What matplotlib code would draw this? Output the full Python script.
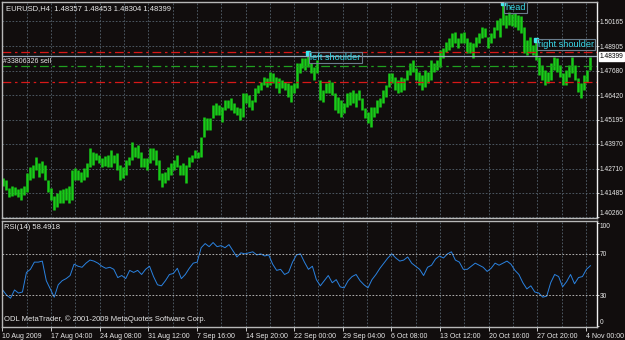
import numpy as np
import matplotlib
matplotlib.use('Agg')
import matplotlib.pyplot as plt
import matplotlib.transforms as mtrans

# EURUSD H4 bars (high / low)
highs = [1.4224, 1.4214, 1.4174, 1.4184, 1.4179, 1.4169, 1.4174, 1.4184, 1.4250, 1.4280,
         1.4290, 1.4331, 1.4300, 1.4310, 1.4290, 1.4214, 1.4174, 1.4133, 1.4148, 1.4164,
         1.4169, 1.4174, 1.4184, 1.4265, 1.4275, 1.4265, 1.4255, 1.4275, 1.4300, 1.4376,
         1.4356, 1.4351, 1.4341, 1.4326, 1.4336, 1.4341, 1.4366, 1.4341, 1.4351, 1.4290,
         1.4280, 1.4315, 1.4331, 1.4406, 1.4381, 1.4391, 1.4356, 1.4326, 1.4326, 1.4376,
         1.4376, 1.4366, 1.4315, 1.4250, 1.4255, 1.4280, 1.4300, 1.4315, 1.4341, 1.4290,
         1.4300, 1.4290, 1.4331, 1.4341, 1.4366, 1.4356, 1.4432, 1.4533, 1.4528, 1.4528,
         1.4594, 1.4604, 1.4594, 1.4584, 1.4619, 1.4619, 1.4629, 1.4604, 1.4584, 1.4578,
         1.4654, 1.4654, 1.4644, 1.4619, 1.4680, 1.4695, 1.4710, 1.4735, 1.4730, 1.4761,
         1.4756, 1.4735, 1.4730, 1.4720, 1.4710, 1.4705, 1.4695, 1.4705, 1.4806, 1.4806,
         1.4832, 1.4832, 1.4857, 1.4806, 1.4786, 1.4821, 1.4720, 1.4670, 1.4705, 1.4720,
         1.4710, 1.4654, 1.4634, 1.4619, 1.4604, 1.4654, 1.4659, 1.4670, 1.4654, 1.4670,
         1.4629, 1.4578, 1.4558, 1.4584, 1.4584, 1.4619, 1.4629, 1.4670, 1.4695, 1.4756,
         1.4756, 1.4735, 1.4720, 1.4735, 1.4730, 1.4771, 1.4806, 1.4821, 1.4781, 1.4761,
         1.4746, 1.4771, 1.4761, 1.4821, 1.4806, 1.4821, 1.4872, 1.4882, 1.4912, 1.4933,
         1.4958, 1.4963, 1.4933, 1.4958, 1.4963, 1.4933, 1.4912, 1.4907, 1.4938, 1.4958,
         1.4988, 1.4983, 1.4938, 1.4958, 1.4988, 1.5024, 1.5034, 1.5100, 1.5049, 1.5064,
         1.5054, 1.5059, 1.5049, 1.5044, 1.4988, 1.4923, 1.4938, 1.4897, 1.4923, 1.4837,
         1.4796, 1.4771, 1.4761, 1.4806, 1.4837, 1.4832, 1.4796, 1.4756, 1.4771, 1.4796,
         1.4837, 1.4796, 1.4730, 1.4705, 1.4746, 1.4771, 1.4837]
lows = [1.4184, 1.4164, 1.4128, 1.4133, 1.4138, 1.4128, 1.4113, 1.4138, 1.4153, 1.4214,
        1.4224, 1.4265, 1.4229, 1.4250, 1.4214, 1.4153, 1.4113, 1.4062, 1.4078, 1.4098,
        1.4098, 1.4113, 1.4098, 1.4113, 1.4214, 1.4214, 1.4204, 1.4214, 1.4229, 1.4280,
        1.4290, 1.4315, 1.4300, 1.4280, 1.4285, 1.4280, 1.4280, 1.4300, 1.4265, 1.4214,
        1.4224, 1.4240, 1.4290, 1.4315, 1.4331, 1.4326, 1.4280, 1.4280, 1.4265, 1.4300,
        1.4315, 1.4290, 1.4214, 1.4179, 1.4199, 1.4214, 1.4240, 1.4265, 1.4280, 1.4240,
        1.4240, 1.4199, 1.4280, 1.4305, 1.4326, 1.4326, 1.4331, 1.4432, 1.4467, 1.4467,
        1.4528, 1.4543, 1.4543, 1.4508, 1.4568, 1.4578, 1.4568, 1.4553, 1.4543, 1.4518,
        1.4533, 1.4604, 1.4584, 1.4568, 1.4609, 1.4654, 1.4670, 1.4695, 1.4685, 1.4695,
        1.4705, 1.4680, 1.4654, 1.4680, 1.4670, 1.4634, 1.4609, 1.4654, 1.4680, 1.4756,
        1.4781, 1.4771, 1.4786, 1.4756, 1.4720, 1.4756, 1.4619, 1.4609, 1.4654, 1.4654,
        1.4644, 1.4568, 1.4553, 1.4533, 1.4553, 1.4584, 1.4594, 1.4604, 1.4584, 1.4619,
        1.4568, 1.4528, 1.4503, 1.4482, 1.4533, 1.4553, 1.4584, 1.4604, 1.4634, 1.4685,
        1.4705, 1.4670, 1.4654, 1.4659, 1.4670, 1.4720, 1.4746, 1.4761, 1.4720, 1.4695,
        1.4670, 1.4685, 1.4705, 1.4720, 1.4761, 1.4771, 1.4786, 1.4832, 1.4862, 1.4872,
        1.4887, 1.4907, 1.4882, 1.4907, 1.4907, 1.4857, 1.4857, 1.4832, 1.4887, 1.4907,
        1.4933, 1.4938, 1.4882, 1.4907, 1.4933, 1.4973, 1.4938, 1.4998, 1.4983, 1.4998,
        1.4993, 1.4988, 1.4973, 1.4958, 1.4857, 1.4847, 1.4857, 1.4847, 1.4821, 1.4746,
        1.4720, 1.4695, 1.4705, 1.4720, 1.4771, 1.4761, 1.4735, 1.4695, 1.4695, 1.4735,
        1.4756, 1.4720, 1.4659, 1.4629, 1.4670, 1.4710, 1.4771]

# RSI(14) sampled along the same time span
rsi = [35, 30, 27, 35, 32, 33, 52, 55, 62, 62, 63, 44, 36, 28, 40, 44, 46, 49, 60, 58,
       57, 61, 64, 63, 61, 58, 56, 57, 55, 47, 49, 46, 54, 52, 54, 50, 55, 58, 48, 40,
       39, 44, 50, 51, 56, 46, 50, 56, 61, 62, 76, 80, 77, 81, 77, 78, 76, 79, 73, 67,
       71, 70, 71, 72, 69, 70, 68, 69, 60, 54, 55, 50, 52, 62, 69, 70, 62, 55, 58, 45,
       39, 44, 49, 42, 45, 38, 37, 44, 48, 50, 44, 40, 37, 45, 50, 56, 61, 66, 70, 66,
       63, 64, 67, 61, 58, 55, 49, 57, 59, 65, 68, 66, 70, 72, 64, 62, 55, 55, 58, 61,
       59, 57, 53, 56, 61, 59, 61, 63, 60, 54, 50, 42, 36, 39, 33, 32, 28, 29, 42, 50,
       48, 38, 43, 50, 41, 47, 48, 55, 58.5]

date_labels = ['10 Aug 2009', '17 Aug 04:00', '24 Aug 08:00', '31 Aug 12:00', '7 Sep 16:00',
               '14 Sep 20:00', '22 Sep 00:00', '29 Sep 04:00', '6 Oct 08:00', '13 Oct 12:00',
               '20 Oct 16:00', '27 Oct 20:00', '4 Nov 00:00']
price_ticks = [1.50165, 1.48905, 1.47680, 1.46420, 1.45195, 1.43970, 1.42710, 1.41485, 1.40260]
rsi_ticks = [100, 70, 30, 0]
rsi_levels = [70, 30]

title_text = 'EURUSD,H4  1.48357 1.48453 1.48304 1.48399'
last_price = 1.48399
rsi_last = 58.4918
red_levels = [1.4863, 1.4710]
green_level = 1.4793
order_text = '#33806326 sell'
# (text, bar index, price) of the chart objects
notes = [('left shoulder', 102, 1.4857), ('head', 167, 1.5110), ('right shoulder', 178, 1.4923)]

bg = '#110d0d'
fg = '#e8e8e8'
grid_c = '#56636f'
frame_c = '#b8b8b8'
plt.rcParams['font.family'] = ['Liberation Sans', 'DejaVu Sans']

fig = plt.figure(figsize=(6.25, 3.4), dpi=100, facecolor=bg)
ax = fig.add_axes([2/625, 122.5/340, 595/625, 215.5/340], facecolor=bg)
ax2 = fig.add_axes([2/625, 13/340, 595/625, 106/340], facecolor=bg)

n = len(highs)
idx = np.arange(n)
step = 16.22  # bars between date labels
major = np.arange(len(date_labels)) * step - 0.1
minor = major[:-1] + step / 2

# price bars
ax.vlines(idx, lows, highs, color='#18cc18', lw=1.8)
ax.set_xlim(-0.2, 198.2)
ax.set_ylim(1.40244, 1.5115)

for a in (ax, ax2):
    a.set_xticks(major)
    a.set_xticks(minor, minor=True)
    a.grid(True, which='both', axis='x', color=grid_c, ls=(0, (2, 2)), lw=0.6)
    for s in a.spines.values():
        s.set_color(frame_c)
        s.set_linewidth(1.0)
    a.spines['right'].set_color('#f0f0f0')
    a.yaxis.tick_right()
    a.tick_params(axis='y', colors=fg, labelsize=4.8, length=1.5, pad=0.5, width=0.6)
    a.tick_params(axis='x', which='both', colors=fg, length=3, width=0.6)

ax.set_yticks(price_ticks)
ax.set_yticklabels(['%.5f' % p for p in price_ticks])
ax.get_yticklabels()[-1].set_va('bottom')
ax.grid(True, axis='y', color=grid_c, ls=(0, (2, 2)), lw=0.6)
ax.tick_params(axis='x', which='both', labelbottom=False, length=0)

# order / level lines
for lv in red_levels:
    ax.axhline(lv, color='#d81818', lw=0.9, ls=(0, (7, 3, 2, 3)))
ax.axhline(green_level, color='#20a020', lw=0.9, ls=(0, (7, 3, 2, 3)))
ax.axhline(last_price, color='#98a8b8', lw=0.9)
ax.text(0.002, last_price - 0.0006, order_text,
        transform=mtrans.blended_transform_factory(ax.transAxes, ax.transData),
        color=fg, fontsize=5, va='top', ha='left')

# current price box on the axis
ax.text(1.004, last_price, '%.5f' % last_price,
        transform=mtrans.blended_transform_factory(ax.transAxes, ax.transData),
        color='black', fontsize=4.8, va='center', ha='left', clip_on=False,
        bbox=dict(boxstyle='square,pad=0.12', fc='white', ec='white'))

ax.text(0.006, 0.985, title_text, transform=ax.transAxes, color=fg, fontsize=5.5, va='top')

# shoulder / head labels
for txt, i, p in notes:
    ax.plot(i, p, marker='s', ms=2.2, color='#40e8f0', mec='#40e8f0')
    ax.text(i + 0.5, p, txt, color='#38d8e8', fontsize=6.6, va='top', ha='left',
            bbox=dict(boxstyle='square,pad=0.15', fc='none', ec='#6a7c8c', lw=0.8))

# RSI panel
rx = np.linspace(0, n - 1, len(rsi))
ax2.plot(rx, rsi, color='#2a82e0', lw=0.7)
ax2.set_xlim(-0.2, 198.2)
ax2.set_ylim(-0.95, 101.9)
for lv in rsi_levels:
    ax2.axhline(lv, color='#c8c8c8', lw=0.6, ls=(0, (2, 2)))
ax2.set_yticks(rsi_ticks)
ax2.set_yticklabels([str(t) for t in rsi_ticks])
ax2.get_yticklabels()[0].set_va('top')
ax2.get_yticklabels()[-1].set_va('bottom')
ax2.set_xticklabels(date_labels)
ax2.tick_params(axis='x', which='major', labelsize=5, pad=1)
ax2.tick_params(axis='x', which='minor', length=0)
for lab in ax2.get_xticklabels():
    lab.set_ha('left')
ax2.text(0.004, 0.97, 'RSI(14) %.4f' % rsi_last, transform=ax2.transAxes, color=fg, fontsize=5.5, va='top')
ax2.text(0.004, 0.04, 'ODL MetaTrader, \u00a9 2001-2009 MetaQuotes Software Corp.', transform=ax2.transAxes,
         color=fg, fontsize=5.5, va='bottom')

fig.savefig('out.png', dpi=100, facecolor=bg)
